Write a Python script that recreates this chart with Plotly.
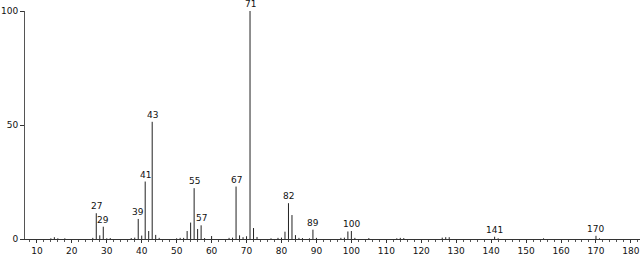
import plotly.graph_objects as go

mz = [14, 15, 16, 18, 26, 27, 28, 29, 30, 31, 37, 38, 39, 40, 41, 42, 43, 44, 45,
      50, 51, 52, 53, 54, 55, 56, 57, 58, 60, 65, 66, 67, 68, 69, 70, 71, 72, 73,
      77, 79, 80, 81, 82, 83, 84, 85, 86, 88, 89, 90, 97, 98, 99, 100, 101, 105,
      113, 114, 115, 126, 127, 128, 141, 142, 155, 170, 171]
intensity = [0.3, 0.8, 0.3, 0.3, 0.5, 11.3, 1.6, 5.4, 0.3, 0.4, 0.4, 0.6, 8.8, 1.5, 25.2, 3.5, 51.4, 1.8, 0.5,
             0.3, 0.5, 0.5, 3.5, 7.2, 22.3, 4.4, 6.0, 0.4, 1.3, 0.5, 0.6, 23.0, 1.6, 0.8, 1.2, 100, 4.8, 0.9,
             0.3, 0.5, 0.6, 3.2, 15.7, 10.5, 1.7, 0.5, 0.4, 0.3, 4.1, 0.5, 0.5, 0.6, 3.3, 3.5, 0.5, 0.4,
             0.3, 0.5, 0.4, 0.6, 0.8, 0.8, 1.0, 0.3, 0.3, 1.4, 0.3]
labeled = [27, 29, 39, 41, 43, 55, 57, 67, 71, 82, 89, 100, 141, 170]
x_ticks = list(range(10, 190, 10))
y_ticks = [0, 50, 100]

lx, ly = [], []
for m, v in zip(mz, intensity):
    lx += [m, m, None]
    ly += [0, v, None]

fig = go.Figure()
fig.add_trace(go.Scatter(x=lx, y=ly, mode="lines",
                         line=dict(color="#222222", width=1),
                         hoverinfo="skip", showlegend=False))

font = dict(family="DejaVu Sans", size=9, color="#111111")
for m in labeled:
    v = intensity[mz.index(m)]
    fig.add_annotation(x=m, y=v, text=str(m), showarrow=False,
                       yanchor="bottom", yshift=0, font=font)

fig.update_layout(
    width=644, height=256,
    margin=dict(l=25, r=4, t=11, b=17),
    paper_bgcolor="white", plot_bgcolor="white",
    xaxis=dict(range=[6.6, 182.6], tickvals=x_ticks, ticktext=[str(t) for t in x_ticks],
               automargin=False,
               showgrid=False, zeroline=False, showline=True, linecolor="#333333", linewidth=1,
               ticks="outside", ticklen=3, tickcolor="#333333", tickfont=font,
               minor=dict(dtick=2, tick0=0, ticks="outside", ticklen=2, tickcolor="#555555")),
    yaxis=dict(range=[0, 100], tickvals=y_ticks, ticktext=[str(t) for t in y_ticks],
               automargin=False,
               showgrid=False, zeroline=False, showline=True, linecolor="#555555", linewidth=1,
               ticks="outside", ticklen=4, tickcolor="#333333", tickfont=font),
)
fig.write_html("out.html")
